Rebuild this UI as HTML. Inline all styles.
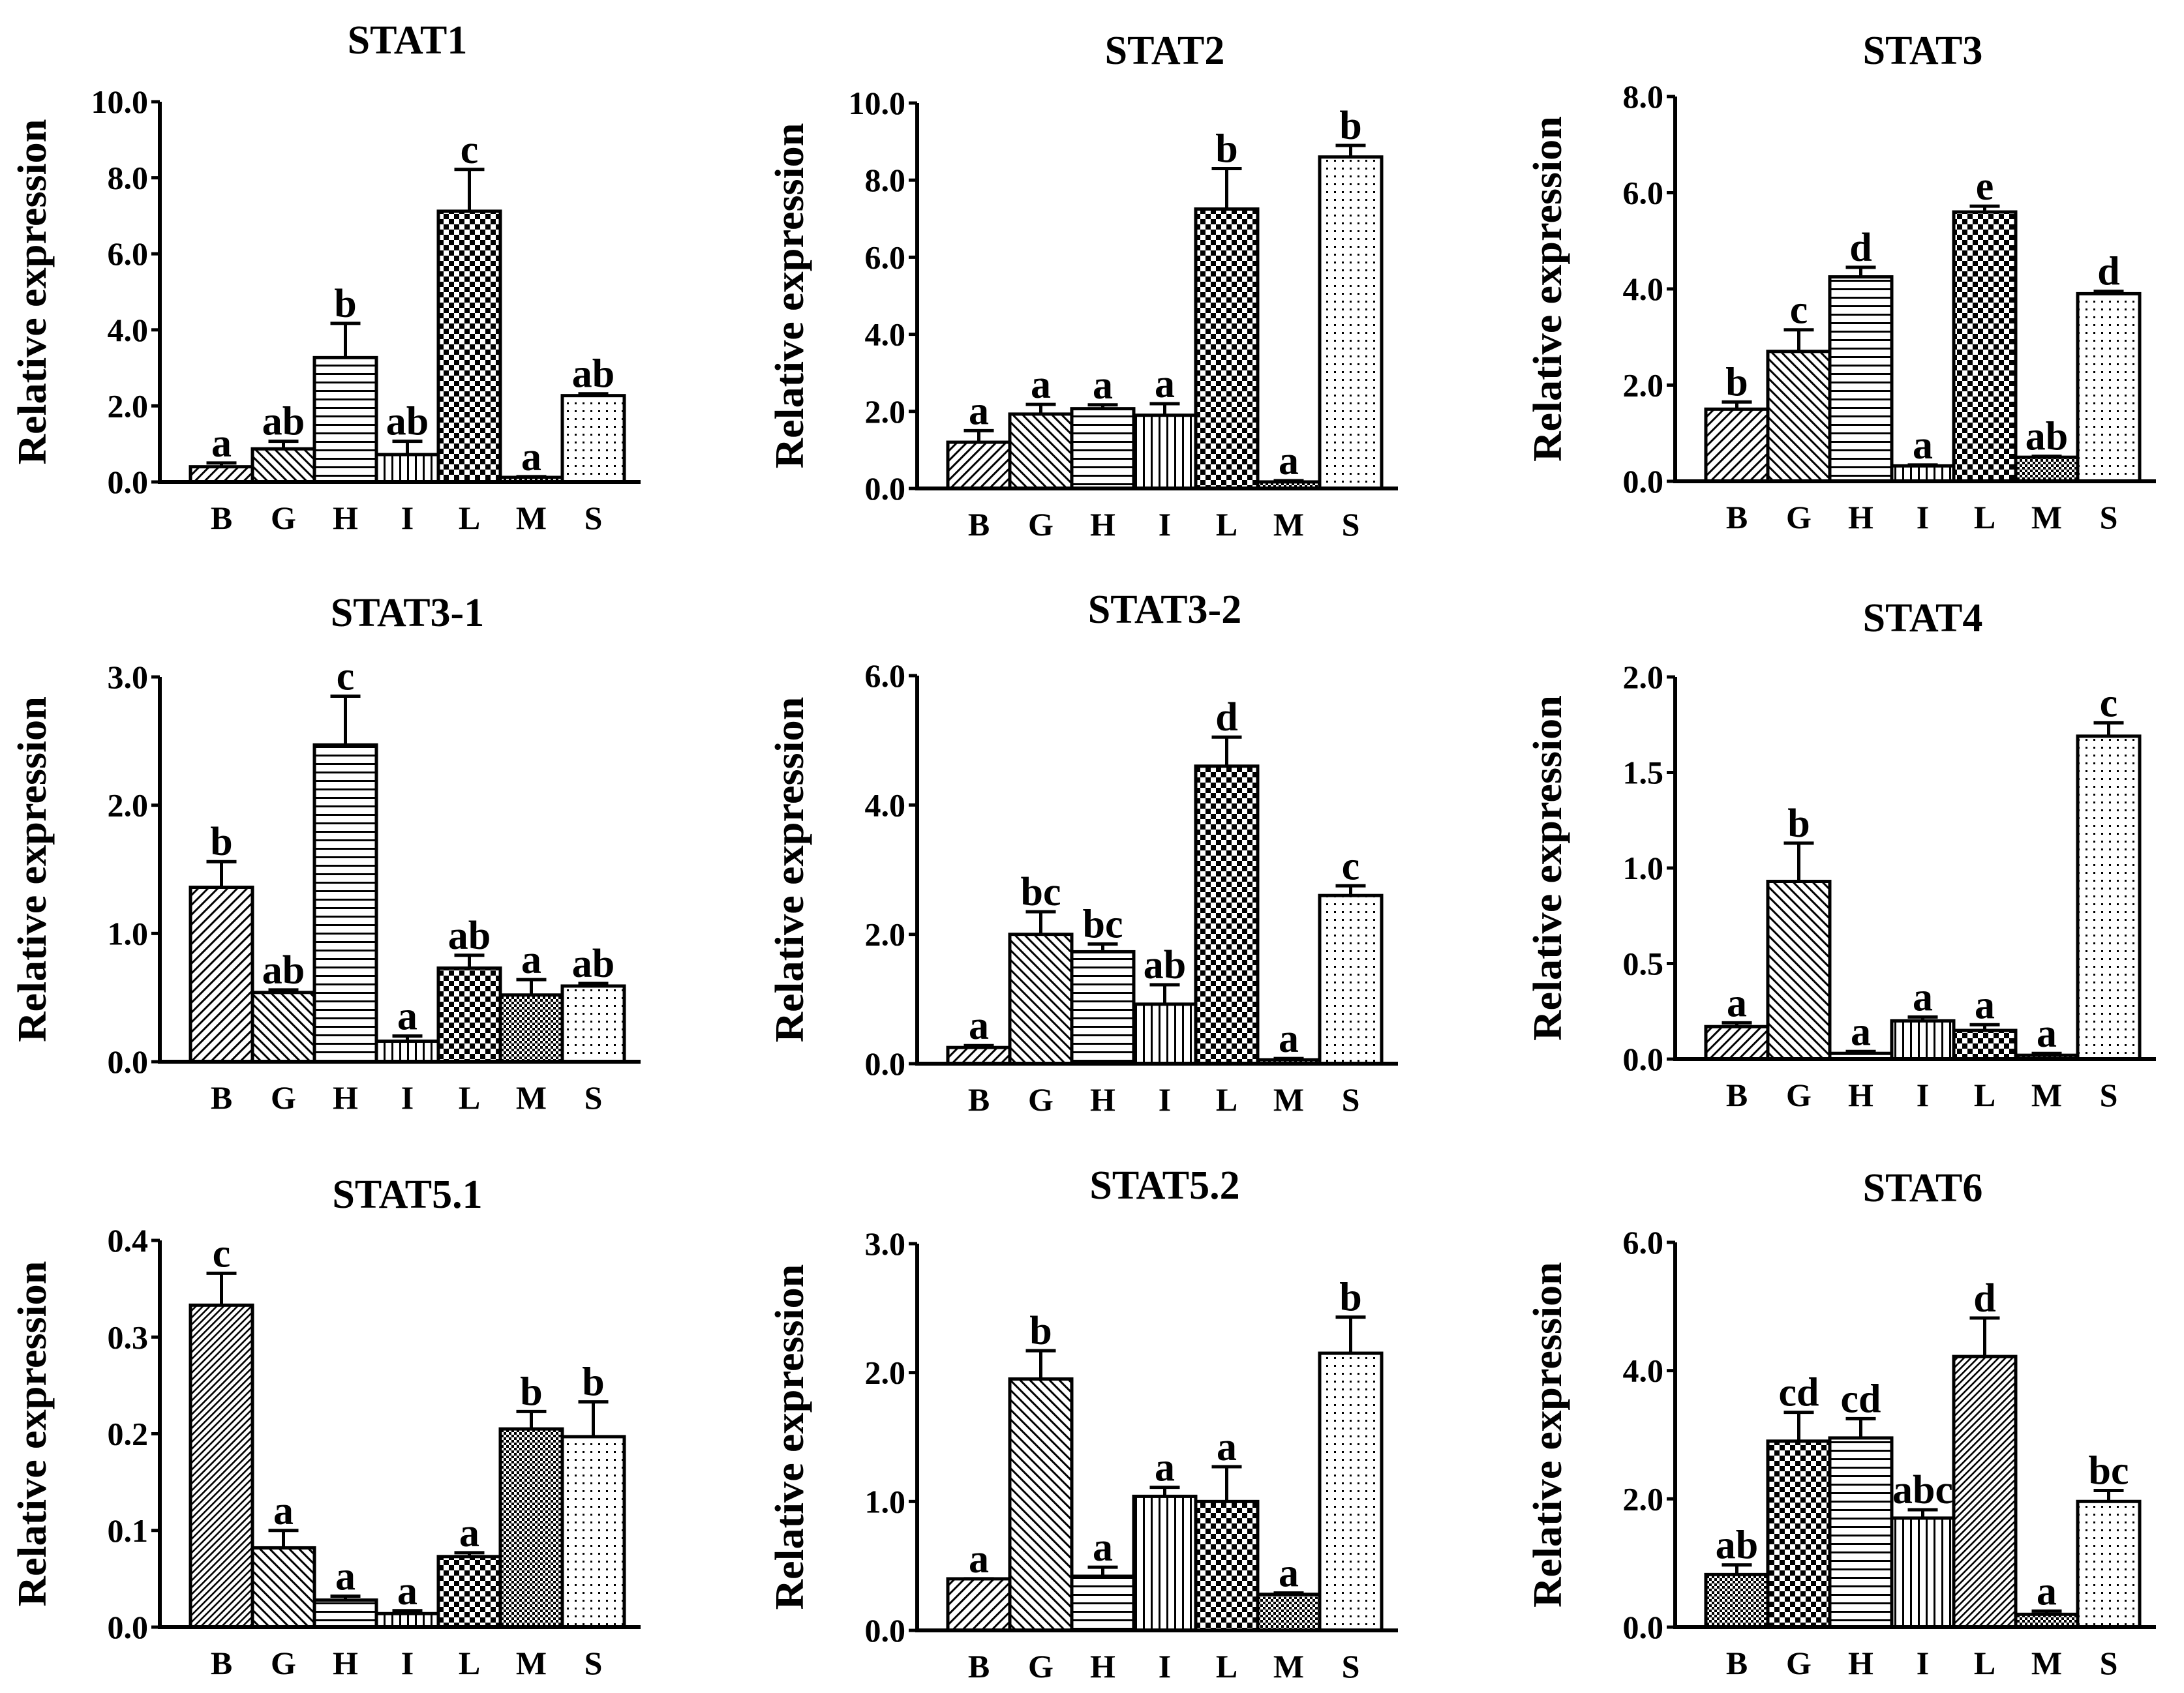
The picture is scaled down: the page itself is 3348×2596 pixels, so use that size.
<!DOCTYPE html>
<html><head><meta charset="utf-8">
<style>
html,body{margin:0;padding:0;background:#fff;}
svg{display:block;}
text{font-family:"Liberation Serif",serif;font-weight:bold;fill:#000;}
</style></head>
<body>
<svg id="fig" width="3348" height="2596" viewBox="0 0 3348 2596" xmlns="http://www.w3.org/2000/svg">
<defs>
  <pattern id="p-fwd" patternUnits="userSpaceOnUse" width="10.6" height="10.6" patternTransform="rotate(45)">
    <rect width="10.6" height="10.6" fill="#fff"/><rect x="0" y="0" width="3" height="10.6" fill="#000"/></pattern>
  <pattern id="p-fwd-dense" patternUnits="userSpaceOnUse" width="7.5" height="7.5" patternTransform="rotate(45)">
    <rect width="7.5" height="7.5" fill="#fff"/><rect x="0" y="0" width="2.6" height="7.5" fill="#000"/></pattern>
  <pattern id="p-back" patternUnits="userSpaceOnUse" width="10.6" height="10.6" patternTransform="rotate(-45)">
    <rect width="10.6" height="10.6" fill="#fff"/><rect x="0" y="0" width="3" height="10.6" fill="#000"/></pattern>
  <pattern id="p-horiz" patternUnits="userSpaceOnUse" width="13" height="13">
    <rect width="13" height="13" fill="#fff"/><rect x="0" y="0" width="13" height="3" fill="#000"/></pattern>
  <pattern id="p-vert" patternUnits="userSpaceOnUse" width="12" height="12">
    <rect width="12" height="12" fill="#fff"/><rect x="0" y="0" width="3" height="12" fill="#000"/></pattern>
  <pattern id="p-check" patternUnits="userSpaceOnUse" width="16" height="16">
    <rect width="16" height="16" fill="#fff"/><rect x="0" y="0" width="8" height="8" fill="#000"/><rect x="8" y="8" width="8" height="8" fill="#000"/></pattern>
  <pattern id="p-check-dense" patternUnits="userSpaceOnUse" width="8" height="8">
    <rect width="8" height="8" fill="#fff"/><rect x="0" y="0" width="4" height="4" fill="#000"/><rect x="4" y="4" width="4" height="4" fill="#000"/></pattern>
  <pattern id="p-dots" patternUnits="userSpaceOnUse" width="12" height="12">
    <rect width="12" height="12" fill="#fff"/><rect x="5" y="5" width="3" height="3" fill="#000"/></pattern>
</defs>
</svg>
<script>
// ---- data ----
const categories = ["B","G","H","I","L","M","S"];
const titles = ["STAT1","STAT2","STAT3","STAT3-1","STAT3-2","STAT4","STAT5.1","STAT5.2","STAT6"];
const stat1Values = [0.40,0.87,3.27,0.72,7.12,0.12,2.27];
const stat1Errors = [0.10,0.20,0.90,0.35,1.10,0.02,0.05];
const stat1Letters = ["a","ab","b","ab","c","a","ab"];
const stat2Values = [1.20,1.93,2.07,1.90,7.25,0.17,8.60];
const stat2Errors = [0.30,0.25,0.10,0.30,1.05,0.03,0.30];
const stat2Letters = ["a","a","a","a","b","a","b"];
const stat3Values = [1.50,2.70,4.25,0.32,5.60,0.50,3.90];
const stat3Errors = [0.15,0.45,0.20,0.02,0.12,0.02,0.05];
const stat3Letters = ["b","c","d","a","e","ab","d"];
const stat31Values = [1.36,0.54,2.47,0.16,0.73,0.52,0.59];
const stat31Errors = [0.20,0.02,0.38,0.04,0.10,0.12,0.02];
const stat31Letters = ["b","ab","c","a","ab","a","ab"];
const stat32Values = [0.25,2.00,1.73,0.92,4.60,0.06,2.60];
const stat32Errors = [0.03,0.35,0.12,0.30,0.45,0.02,0.15];
const stat32Letters = ["a","bc","bc","ab","d","a","c"];
const stat4Values = [0.17,0.93,0.03,0.20,0.15,0.02,1.69];
const stat4Errors = [0.02,0.20,0.01,0.02,0.03,0.01,0.07];
const stat4Letters = ["a","b","a","a","a","a","c"];
const stat51Values = [0.333,0.082,0.028,0.014,0.073,0.205,0.197];
const stat51Errors = [0.033,0.018,0.004,0.003,0.004,0.018,0.036];
const stat51Letters = ["c","a","a","a","a","b","b"];
const stat52Values = [0.40,1.95,0.42,1.04,1.00,0.28,2.15];
const stat52Errors = [0.00,0.22,0.07,0.07,0.27,0.01,0.28];
const stat52Letters = ["a","b","a","a","a","a","b"];
const stat6Values = [0.82,2.90,2.95,1.70,4.22,0.20,1.96];
const stat6Errors = [0.15,0.45,0.30,0.13,0.60,0.05,0.17];
const stat6Letters = ["ab","cd","cd","abc","d","a","bc"];
const ticks1 = ["0.0","2.0","4.0","6.0","8.0","10.0"];
const ticks2 = ["0.0","2.0","4.0","6.0","8.0","10.0"];
const ticks3 = ["0.0","2.0","4.0","6.0","8.0"];
const ticks31 = ["0.0","1.0","2.0","3.0"];
const ticks32 = ["0.0","2.0","4.0","6.0"];
const ticks4 = ["0.0","0.5","1.0","1.5","2.0"];
const ticks51 = ["0.0","0.1","0.2","0.3","0.4"];
const ticks52 = ["0.0","1.0","2.0","3.0"];
const ticks6 = ["0.0","2.0","4.0","6.0"];

const allValues = [stat1Values,stat2Values,stat3Values,stat31Values,stat32Values,stat4Values,stat51Values,stat52Values,stat6Values];
const allErrors = [stat1Errors,stat2Errors,stat3Errors,stat31Errors,stat32Errors,stat4Errors,stat51Errors,stat52Errors,stat6Errors];
const allLetters = [stat1Letters,stat2Letters,stat3Letters,stat31Letters,stat32Letters,stat4Letters,stat51Letters,stat52Letters,stat6Letters];
const allTicks = [ticks1,ticks2,ticks3,ticks31,ticks32,ticks4,ticks51,ticks52,ticks6];

// ---- layout (pixel geometry, not data) ----
const axisX = [245,1406,2568, 245,1406,2568, 245,1406,2568];
const baseY = [739,749,738, 1628,1631,1624, 2495,2500,2495];
const topY  = [156,158,148, 1038,1036,1038, 1902,1907,1905];
const titleY= [82,98,98, 960,955,968, 1852,1838,1842];
const normalFills = ["p-fwd","p-back","p-horiz","p-vert","p-check","p-check-dense","p-dots"];
const stat51Fills = ["p-fwd-dense","p-back","p-horiz","p-vert","p-check","p-check-dense","p-dots"];
const stat6Fills = ["p-check-dense","p-check","p-horiz","p-vert","p-fwd-dense","p-check-dense","p-dots"];
const fillSets = [normalFills,normalFills,normalFills,normalFills,normalFills,normalFills,stat51Fills,normalFills,stat6Fills];

const NS = "http://www.w3.org/2000/svg";
const svg = document.getElementById("fig");
function mk(tag, attrs, parent){
  const e = document.createElementNS(NS, tag);
  for (const k in attrs) e.setAttribute(k, attrs[k]);
  (parent||svg).appendChild(e);
  return e;
}
const BW = 95, GAP0 = 47;

for (let p = 0; p < 9; p++) {
  const g = mk("g", {});
  
  
  const ax = axisX[p], by = baseY[p], ty = topY[p];
  const ticks = allTicks[p];
  const maxV = parseFloat(ticks[ticks.length-1]);
  const yScale = v => by - (v / maxV) * (by - ty);
  const xScale = i => ax + GAP0 + i * BW;
  const axisEnd = ax + GAP0 + 7 * BW + 25;

  const t = mk("text", {x: ax + GAP0 + 3.5*BW, y: titleY[p], "text-anchor":"middle", "font-size":"62"}, g);
  t.textContent = titles[p];
  
  

  const cy = (by + ty) / 2, lx = ax - 175;
  const yl = mk("text", {x: lx, y: cy, "text-anchor":"middle", "font-size":"62", textLength:"530", lengthAdjust:"spacingAndGlyphs", transform:`rotate(-90 ${lx} ${cy})`}, g);
  yl.textContent = "Relative expression";
  
  

  const vals = allValues[p], errs = allErrors[p], lets = allLetters[p], fills = fillSets[p];
  for (let i = 0; i < 7; i++) {
    const x0 = xScale(i), yv = yScale(vals[i]);
    const r = mk("rect", {x: x0, y: yv, width: BW, height: Math.max(by - yv, 0.5), fill: `url(#${fills[i]})`, stroke:"#000", "stroke-width":"5"}, g);
    
    
    const ye = yScale(vals[i] + errs[i]);
    const cx = x0 + BW/2;
    const el = mk("path", {d:`M${cx} ${yv} V${ye} M${cx-23} ${ye} H${cx+23}`, stroke:"#000", "stroke-width":"5", fill:"none"}, g);
    
    
    const lt = mk("text", {x: cx, y: ye - 10, "text-anchor":"middle", "font-size":"62"}, g);
    lt.textContent = lets[i];
    
    
    const xl = mk("text", {x: cx, y: by + 72, "text-anchor":"middle", "font-size":"50"}, g);
    xl.textContent = categories[i];
    
    
  }

  const axl = mk("path", {d:`M${ax} ${ty} V${by} H${axisEnd}`, stroke:"#000", "stroke-width":"6", fill:"none"}, g);
  
  
  for (let k = 0; k < ticks.length; k++) {
    const yy = yScale(parseFloat(ticks[k]));
    const tk = mk("line", {x1: ax-13, x2: ax, y1: yy, y2: yy, stroke:"#000", "stroke-width":"5"}, g);
    
    
    const tl = mk("text", {x: ax - 18, y: yy + 17, "text-anchor":"end", "font-size":"50"}, g);
    tl.textContent = ticks[k];
    
    
  }
}
</script>
</body></html>
